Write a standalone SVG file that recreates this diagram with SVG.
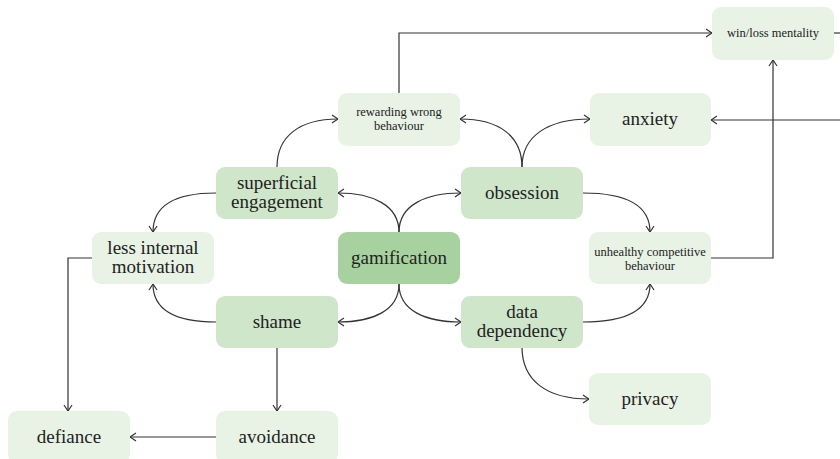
<svg xmlns="http://www.w3.org/2000/svg" width="840" height="459" viewBox="0 0 840 459">
  <defs>
    <marker id="arrow" viewBox="0 0 8 10" refX="7" refY="5" markerWidth="8" markerHeight="10" markerUnits="userSpaceOnUse" orient="auto">
      <path d="M1,1 L7,5 L1,9" fill="none" stroke="#333" stroke-width="1.2"/>
    </marker>
    <style>
      .box { stroke: none; }
      .core { fill: #a7d2a0; }
      .mid { fill: #cfe6cb; }
      .light { fill: #e8f3e6; }
      .lbl { font-family: "Liberation Serif", "DejaVu Serif", serif; fill: #222; text-anchor: middle; }
      .big { font-size: 19px; }
      .small { font-size: 12.5px; }
      .edge { fill: none; stroke: #333; stroke-width: 1.2; }
    </style>
  </defs>
  <rect width="840" height="459" fill="#ffffff"/>

  <!-- connectors -->
  <g id="connectors">
    <!-- from gamification -->
    <path class="edge" d="M399,232 C399,205 372,193 338,193" marker-end="url(#arrow)"/>
    <path class="edge" d="M399,232 C399,205 426,193 461,193" marker-end="url(#arrow)"/>
    <path class="edge" d="M399,284 C399,311 372,322 338,322" marker-end="url(#arrow)"/>
    <path class="edge" d="M399,284 C399,311 426,322 461,322" marker-end="url(#arrow)"/>
    <!-- left side -->
    <path class="edge" d="M216,193 C176,193 153,205 153,232" marker-end="url(#arrow)"/>
    <path class="edge" d="M216,322 C176,322 153,310 153,284" marker-end="url(#arrow)"/>
    <path class="edge" d="M277,167 C277,136 300,119 338,119" marker-end="url(#arrow)"/>
    <!-- right side -->
    <path class="edge" d="M522,167 C522,136 499,119 460,119" marker-end="url(#arrow)"/>
    <path class="edge" d="M522,167 C522,136 548,119 590,119" marker-end="url(#arrow)"/>
    <path class="edge" d="M583,193 C626,193 650,205 650,232" marker-end="url(#arrow)"/>
    <path class="edge" d="M583,322 C626,322 650,310 650,284" marker-end="url(#arrow)"/>
    <path class="edge" d="M522,347 C522,380 546,399 589,399" marker-end="url(#arrow)"/>
    <!-- orthogonal links -->
    <path class="edge" d="M92,258 H68 V411" marker-end="url(#arrow)"/>
    <path class="edge" d="M277,347 V411" marker-end="url(#arrow)"/>
    <path class="edge" d="M216,437 H130" marker-end="url(#arrow)"/>
    <path class="edge" d="M711,258 H773 V60" marker-end="url(#arrow)"/>
    <path class="edge" d="M399,93 V33 H712" marker-end="url(#arrow)"/>
    <path class="edge" d="M834,33 H846"/>
    <path class="edge" d="M846,120 H711" marker-end="url(#arrow)"/>
  </g>

  <!-- nodes -->
  <g id="gamification">
    <rect class="box core" x="338" y="232" width="122" height="52" rx="9"/>
    <text class="lbl big" x="399" y="264">gamification</text>
  </g>
  <g id="superficial-engagement">
    <rect class="box mid" x="216" y="167" width="122" height="52" rx="9"/>
    <text class="lbl big" x="277" y="189">superficial</text>
    <text class="lbl big" x="277" y="208">engagement</text>
  </g>
  <g id="obsession">
    <rect class="box mid" x="461" y="167" width="122" height="52" rx="9"/>
    <text class="lbl big" x="522" y="199">obsession</text>
  </g>
  <g id="shame">
    <rect class="box mid" x="216" y="296" width="122" height="52" rx="9"/>
    <text class="lbl big" x="277" y="328">shame</text>
  </g>
  <g id="data-dependency">
    <rect class="box mid" x="461" y="296" width="122" height="52" rx="9"/>
    <text class="lbl big" x="522" y="318">data</text>
    <text class="lbl big" x="522" y="337">dependency</text>
  </g>
  <g id="less-internal-motivation">
    <rect class="box light" x="92" y="232" width="122" height="52" rx="9"/>
    <text class="lbl big" x="153" y="254">less internal</text>
    <text class="lbl big" x="153" y="273">motivation</text>
  </g>
  <g id="rewarding-wrong-behaviour">
    <rect class="box light" x="338" y="93" width="122" height="53" rx="9"/>
    <text class="lbl small" x="399" y="116">rewarding wrong</text>
    <text class="lbl small" x="399" y="130">behaviour</text>
  </g>
  <g id="anxiety">
    <rect class="box light" x="590" y="93" width="121" height="53" rx="9"/>
    <text class="lbl big" x="650" y="125">anxiety</text>
  </g>
  <g id="win-loss-mentality">
    <rect class="box light" x="712" y="7" width="122" height="53" rx="9"/>
    <text class="lbl small" x="773" y="37">win/loss mentality</text>
  </g>
  <g id="unhealthy-competitive-behaviour">
    <rect class="box light" x="589" y="232" width="122" height="52" rx="9"/>
    <text class="lbl small" x="650" y="256">unhealthy competitive</text>
    <text class="lbl small" x="650" y="270">behaviour</text>
  </g>
  <g id="privacy">
    <rect class="box light" x="589" y="373" width="122" height="52" rx="9"/>
    <text class="lbl big" x="650" y="405">privacy</text>
  </g>
  <g id="defiance">
    <rect class="box light" x="8" y="411" width="122" height="52" rx="9"/>
    <text class="lbl big" x="69" y="443">defiance</text>
  </g>
  <g id="avoidance">
    <rect class="box light" x="216" y="411" width="122" height="52" rx="9"/>
    <text class="lbl big" x="277" y="443">avoidance</text>
  </g>
</svg>
